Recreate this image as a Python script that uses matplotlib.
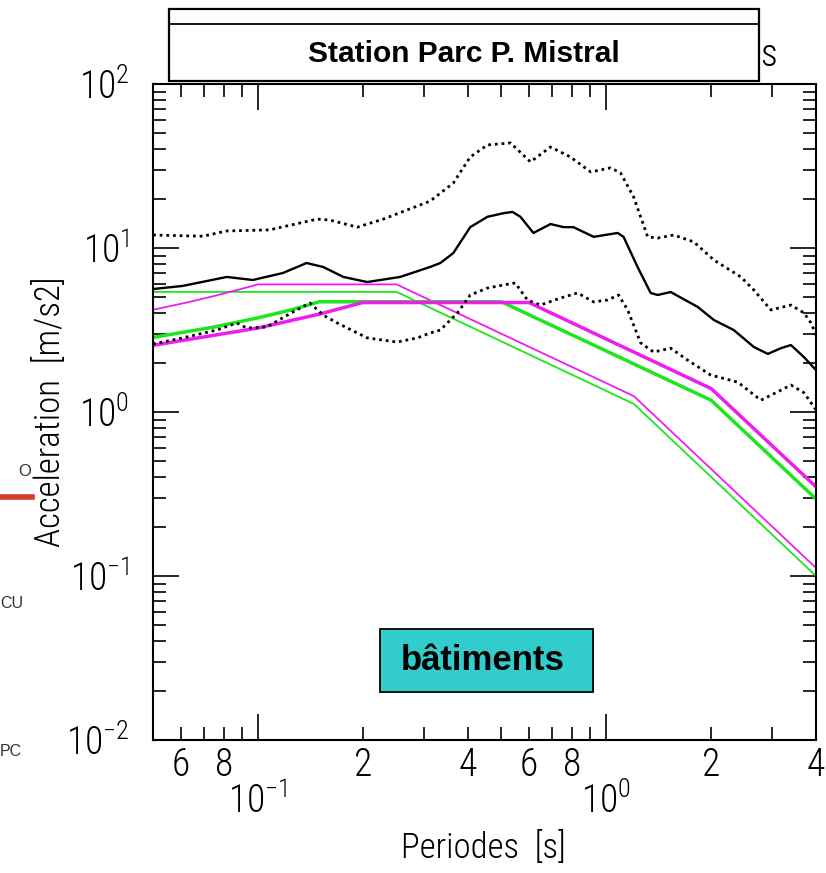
import numpy as np
import matplotlib
matplotlib.use('Agg')
import matplotlib.pyplot as plt
from matplotlib.ticker import FixedLocator, FixedFormatter, NullFormatter
from matplotlib.patches import Rectangle
from matplotlib.lines import Line2D

narrow = ['Roboto Condensed', 'Archivo Narrow', 'DejaVu Sans']
plt.rcParams['font.family'] = narrow
plt.rcParams['font.weight'] = 'light'
plt.rcParams['mathtext.fontset'] = 'custom'
plt.rcParams['mathtext.rm'] = 'Roboto Condensed:light'
plt.rcParams['mathtext.it'] = 'Roboto Condensed:light'
plt.rcParams['mathtext.bf'] = 'Roboto Condensed:light'

# ---- data ----
# upper dotted (mean + sigma)
up_T = [0.05, 0.0695, 0.0814, 0.108, 0.148, 0.161, 0.193, 0.229, 0.312, 0.364,
        0.407, 0.456, 0.531, 0.606, 0.692, 0.789, 0.902, 1.029, 1.099, 1.198,
        1.315, 1.405, 1.562, 1.783, 2.036, 2.435, 2.653, 2.968, 3.389, 3.695,
        3.870, 4.0]
up_A = [12.0, 11.8, 12.7, 12.9, 15.0, 14.8, 13.4, 15.0, 19.3, 24.9,
        35.9, 42.5, 43.7, 33.5, 41.3, 35.9, 29.1, 30.8, 28.7, 20.5,
        11.7, 11.5, 12.0, 10.9, 8.45, 6.66, 5.54, 4.19, 4.49, 4.02,
        3.49, 2.95]

# mean (solid)
mean_T = [0.05, 0.0608, 0.0814, 0.0967, 0.118, 0.138, 0.154, 0.176, 0.206, 0.256,
          0.312, 0.334, 0.364, 0.407, 0.456, 0.507, 0.538, 0.567, 0.618, 0.692,
          0.754, 0.805, 0.920, 1.078, 1.121, 1.230, 1.341, 1.405, 1.531, 1.831,
          2.036, 2.323, 2.653, 2.910, 3.172, 3.389, 3.695, 4.0]
mean_A = [5.62, 5.87, 6.66, 6.38, 7.04, 8.10, 7.66, 6.66, 6.20, 6.66,
          7.66, 8.10, 9.32, 13.4, 15.5, 16.3, 16.6, 15.5, 12.35, 14.0,
          13.4, 13.4, 11.7, 12.35, 11.7, 7.66, 5.32, 5.17, 5.39, 4.37,
          3.64, 3.16, 2.49, 2.26, 2.45, 2.56, 2.16, 1.80]

# lower dotted (mean - sigma)
low_T = [0.05, 0.0608, 0.0762, 0.087, 0.093, 0.106, 0.126, 0.141, 0.154, 0.169,
         0.206, 0.251, 0.287, 0.312, 0.334, 0.374, 0.407, 0.456, 0.507, 0.548,
         0.594, 0.647, 0.739, 0.827, 0.920, 1.009, 1.085, 1.152, 1.255, 1.368,
         1.531, 1.713, 1.995, 2.386, 2.779, 3.110, 3.389, 3.695, 4.0]
low_A = [2.6, 2.83, 3.16, 3.49, 3.25, 3.30, 4.07, 4.62, 3.90, 3.49,
         2.83, 2.67, 2.83, 3.03, 3.16, 4.02, 5.17, 5.70, 5.95, 6.12,
         4.82, 4.49, 4.95, 5.32, 4.69, 4.82, 5.17, 4.19, 2.64, 2.32,
         2.45, 2.07, 1.68, 1.52, 1.18, 1.33, 1.46, 1.31, 1.03]

# code spectra
thin_green_T = [0.05, 0.25, 1.2, 4.0]
thin_green_A = [5.4, 5.4, 1.12, 0.10]
thin_mag_T = [0.05, 0.0625, 0.075, 0.0875, 0.1, 0.25, 1.2, 4.0]
thin_mag_A = [4.2, 4.65, 5.1, 5.55, 6.0, 6.0, 1.25, 0.112]
thick_green_T = [0.05, 0.075, 0.1, 0.125, 0.15, 0.5, 2.0, 4.0]
thick_green_A = [2.85, 3.3, 3.75, 4.2, 4.7, 4.7, 1.18, 0.295]
thick_mag_T = [0.05, 0.1, 0.15, 0.2, 0.6, 2.0, 4.0]
thick_mag_A = [2.55, 3.25, 3.95, 4.65, 4.65, 1.39, 0.35]

x_major = [0.1, 1.0]
x_major_labels = [r'$10^{-1}$', r'$10^{0}$']
x_minor = [0.06, 0.07, 0.08, 0.09, 0.2, 0.3, 0.4, 0.5, 0.6, 0.7, 0.8, 0.9, 2, 3, 4]
x_minor_labels = ['6', '', '8', '', '2', '', '4', '', '6', '', '8', '', '2', '', '4']
y_major = [0.01, 0.1, 1, 10, 100]
y_major_labels = [r'$10^{-2}$', r'$10^{-1}$', r'$10^{0}$', r'$10^{1}$', r'$10^{2}$']

W, H = 826, 873
fig = plt.figure(figsize=(W / 100, H / 100), dpi=100)
ax = fig.add_axes([153 / W, 1 - 740 / H, (816 - 153) / W, (740 - 84) / H])
ax.set_xscale('log')
ax.set_yscale('log')

green = '#1EE61E'
mag = '#EE1EEE'
ax.plot(thin_green_T, thin_green_A, color=green, lw=1.3)
ax.plot(thin_mag_T, thin_mag_A, color=mag, lw=1.3)
ax.plot(thick_green_T, thick_green_A, color=green, lw=2.5)
ax.plot(thick_mag_T, thick_mag_A, color=mag, lw=2.5)

dot = (0, (1, 1.4))
ax.plot(up_T, up_A, color='black', lw=2.0, linestyle=dot)
ax.plot(low_T, low_A, color='black', lw=2.0, linestyle=dot)
ax.plot(mean_T, mean_A, color='black', lw=1.7)

ax.set_xlim(0.05, 4.0)
ax.set_ylim(0.01, 100)

ax.xaxis.set_major_locator(FixedLocator(x_major))
ax.xaxis.set_major_formatter(FixedFormatter(x_major_labels))
ax.xaxis.set_minor_locator(FixedLocator(x_minor))
ax.xaxis.set_minor_formatter(FixedFormatter(x_minor_labels))
ax.yaxis.set_major_locator(FixedLocator(y_major))
ax.yaxis.set_major_formatter(FixedFormatter(y_major_labels))
ax.yaxis.set_minor_locator(FixedLocator(
    [m * 10.0 ** e for e in range(-2, 2) for m in range(2, 10)]))
ax.yaxis.set_minor_formatter(NullFormatter())

ax.tick_params(which='both', direction='in', top=True, right=True,
               width=1.2, labelsize=27, colors='black')
ax.tick_params(which='major', length=19)
ax.tick_params(which='minor', length=9.5)
ax.tick_params(axis='x', which='major', pad=31)
ax.tick_params(axis='x', which='minor', pad=5)
ax.tick_params(axis='y', which='major', pad=17)
for s in ax.spines.values():
    s.set_linewidth(1.5)

# axis titles
fig.text(50 / W, 1 - 412 / H, 'Acceleration  [m/s2]', rotation=90,
         ha='center', va='center', fontsize=25)
fig.text(483 / W, 1 - 848 / H, 'Periodes  [s]', ha='center', va='center',
         fontsize=25)

# title box
fig.patches.append(Rectangle((169 / W, 1 - 81 / H), (759 - 169) / W, 72 / H,
                             transform=fig.transFigure, facecolor='white',
                             edgecolor='black', lw=1.6, zorder=5))
fig.add_artist(Line2D([169 / W, 759 / W], [1 - 24 / H, 1 - 24 / H],
                      color='black', lw=1.3, zorder=6))
fig.text(464 / W, 1 - 54 / H, 'Station Parc P. Mistral', ha='center', va='center',
         fontsize=21.5, fontweight='bold', family='Liberation Sans', zorder=7)
fig.text(768 / W, 1 - 55 / H, 's', ha='center', va='center', fontsize=27)

# label box
fig.patches.append(Rectangle((380 / W, 1 - 692 / H), (593 - 380) / W, 63 / H,
                             transform=fig.transFigure, facecolor='#33CCCC',
                             edgecolor='black', lw=1.3, zorder=5))
fig.text(483 / W, 1 - 661 / H, 'bâtiments', ha='center', va='center',
         fontsize=25, fontweight='bold', family='Liberation Sans', zorder=7)

# leftover bits on the left margin
fig.text(25 / W, 1 - 472 / H, 'O', ha='center', va='center', fontsize=12,
         family='Liberation Sans', color='#333333')
fig.add_artist(Line2D([0, 32 / W], [1 - 497 / H, 1 - 497 / H],
                      color='#D83A2A', lw=4))
fig.text(0, 1 - 604 / H, 'CU', ha='left', va='center', fontsize=11.5,
         family='Liberation Sans', color='#333333')
fig.text(0, 1 - 752 / H, 'PC', ha='left', va='center', fontsize=11.5,
         family='Liberation Sans', color='#333333')

fig.savefig('out.png', dpi=100)
